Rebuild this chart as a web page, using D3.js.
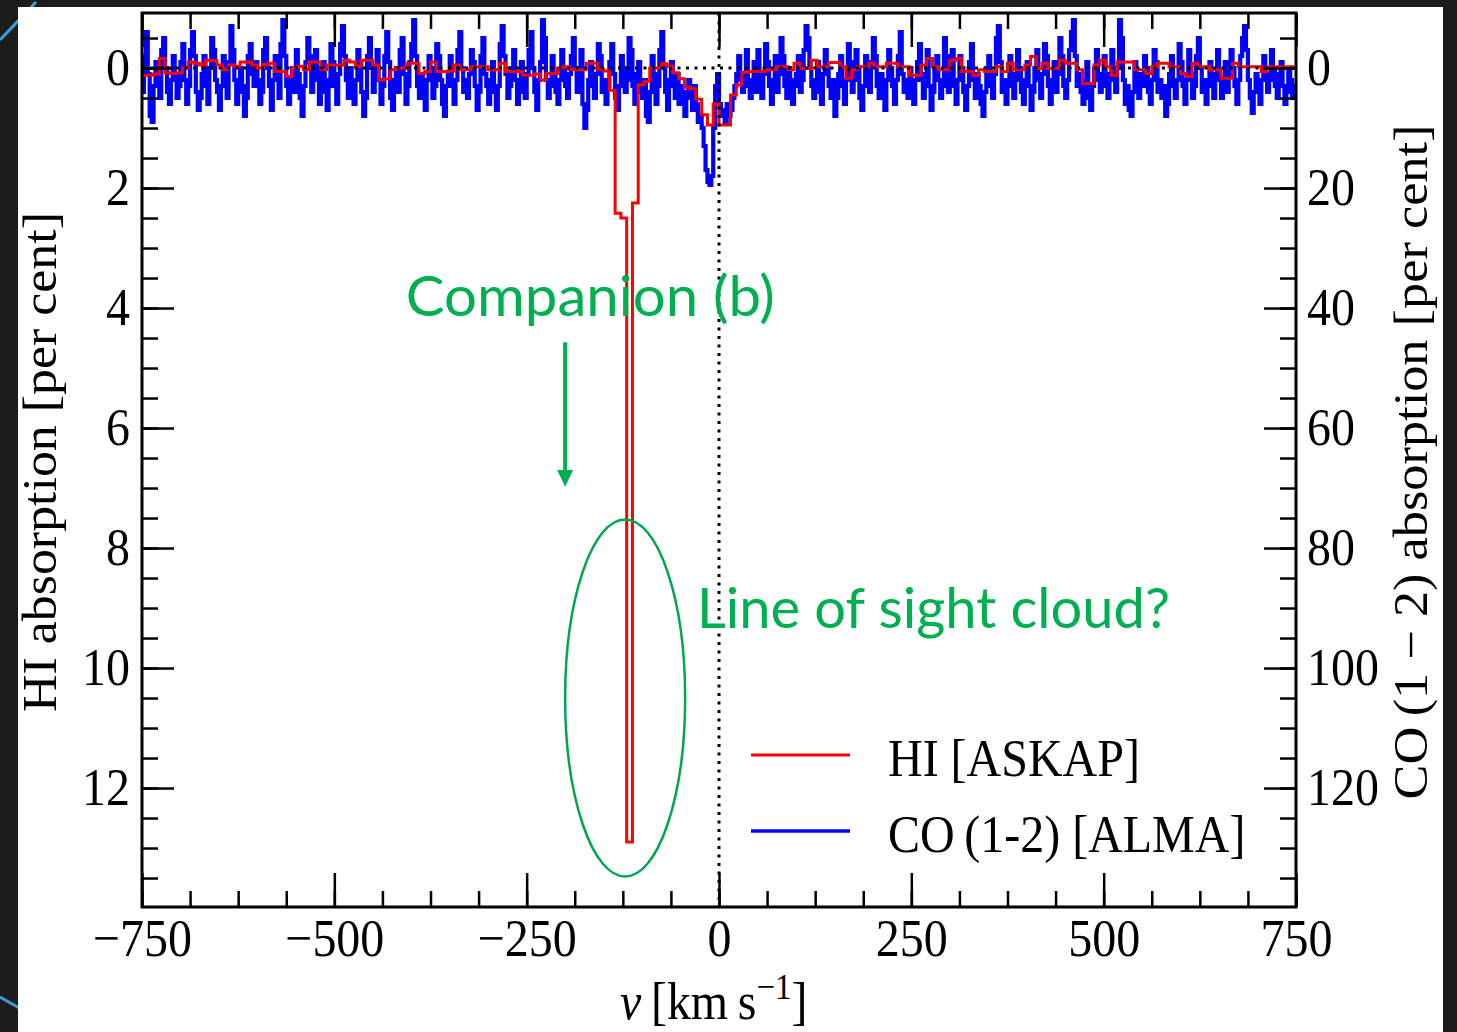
<!DOCTYPE html>
<html>
<head>
<meta charset="utf-8">
<script src="https://cdn.jsdelivr.net/npm/d3@7"></script>
<style>
  body { margin: 0; background: #1c1c1c; }
  svg { display: block; }
</style>
</head>
<body>
<div id="vis"></div>
<script>
// channel grids of the two spectra, km/s
const hiStart = -750, hiWidth = 7.5;
const coStart = -750, coWidth = 2.5;

// HI absorption [per cent], one value per ASKAP channel
const hiValues = [
  0.12, 0.12, 0.10, -0.16, 0.08, 0.09, 0.08, 0.0, -0.1, -0.08,
  -0.05, -0.13, -0.12, -0.05, 0.03, -0.05, -0.03, -0.1, -0.1, -0.05,
  0.0, -0.06, -0.08, 0.06, 0.06, 0.14, 0.0, -0.03, 0.03, -0.1,
  -0.1, 0.03, -0.05, -0.05, -0.05, -0.13, -0.1, -0.03, -0.13, -0.13,
  -0.05, 0.2, 0.18, 0.03, 0.0, 0.0, -0.08, -0.08, 0.09, 0.06,
  -0.1, 0.06, 0.06, 0.05, -0.05, 0.03, 0.03, -0.02, -0.02, -0.02,
  0.03, 0.03, -0.08, 0.06, 0.06, 0.06, 0.12, 0.12, 0.1,
  0.2, 0.09, 0.09, 0.0, -0.02, 0.02, 0.03, 0.03, -0.08, -0.08, 0.02, 0.05, 0.37,
  2.42, 2.5, 12.9, 2.25, 0.28, 0.22, 0.0, 0.0, -0.07, -0.03, 0.08, 0.18,
  0.32, 0.35, 0.52, 0.78, 0.95, 0.6, 0.95, 0.95, 0.45, 0.28, 0.07,
  0.06, 0.06, 0.06, 0.03, 0.03, -0.02, -0.02, 0.03, -0.08, 0.01,
  0.01, -0.13, -0.02, -0.02, -0.09, -0.09, -0.02, 0.17, 0.03, -0.02,
  -0.02, -0.08, -0.02, -0.02, -0.08, -0.08, -0.02, -0.02, 0.12, 0.12,
  -0.05, -0.16, -0.02, 0.03, 0.03, -0.13, -0.16, 0.06, 0.06, 0.12,
  0.03, 0.06, 0.06, -0.02, 0.06, -0.08, 0.03, 0.03, -0.05, -0.19,
  0.01, -0.08, 0.01, 0.01, -0.13, -0.08, -0.08, 0.03, 0.26, 0.26,
  -0.05, -0.13, -0.02, 0.12, -0.1, -0.1, -0.1, 0.03, 0.03, 0.09,
  -0.02, -0.08, -0.08, -0.02, -0.02, 0.09, 0.14, -0.08, -0.02, -0.02,
  0.03, 0.03, 0.17, 0.17, -0.08, -0.02, -0.02, -0.02, -0.02, 0.06,
  -0.02, -0.02, -0.02, -0.02, -0.02
];

// CO(1-2) absorption [per cent], one value per ALMA channel (20 per row = 50 km/s)
const coValues = [
  4, -2, -6, 1, 8, 9, 3, -1, 2, 5, -3, -5, 0, 4, 6, 2, -2, 1, 5, 3,
  -1, -4, 2, 6, 3, -3, -6, -2, 4, 7, 5, 1, -2, 3, 6, 0, -5, -3, 2, 4,
  7, 3, -2, 1, 5, -1, -7, -3, 2, 6, 4, 0, 3, 8, 5, -2, -4, 1, 3, -1,
  2, 6, 4, -3, -5, 0, 3, 7, 2, -2, 1, 5, -4, -8, -2, 3, 6, 2, 0, 4,
  -3, 1, 5, 8, 3, -1, -5, -2, 4, 2, -3, 0, 6, 4, -1, 2, 7, 3, -4, -1,
  3, 6, 1, -4, -7, -2, 2, 5, 0, 3, 6, 2, -3, -1, 4, 8, 5, -2, -5, 0,
  4, 1, -3, 2, 6, 3, -2, -6, -1, 5, 7, 2, 0, 4, -3, -5, 1, 6, 3, -1,
  -4, -8, -2, 3, 5, 1, 4, 7, 2, -2, 0, 5, 3, -4, -2, 2, 6, 8, 3, 1,
  -2, 3, 6, 2, -3, -6, 0, 4, 2, 5, 1, -3, -1, 3, 7, 4, -2, -5, 1, 3,
  6, 2, -1, 4, 7, 3, -4, -7, -2, 1, 5, 3, 0, -3, 2, 6, 4, -1, 3, 5,
  1, -3, -6, 0, 4, 7, 2, -1, -8, -5, 2, 5, 3, -2, 1, 4, 6, 2, -3, 0,
  3, 5, 1, -2, -5, 0, 4, 2, -3, 6, 10, 7, 2, -1, 3, 5, 1, -4, -2, 4,
  2, 6, 3, -1, -4, 1, 5, 7, 3, -2, 0, 4, 2, -5, -3, 3, 6, 1, -1, 4,
  5, 2, 8, 9, 4, -2, 1, 6, 3, -3, -6, 0, 4, 7, 2, -1, 3, 5, 1, 6,
  3, 6, 8, 4, 2, 5, 7, 3, 6, 9, 8, 10, 13, 17, 19, 19.5, 18, 10, 3, 1,
  6, 8, 7, 9, 6, 8, 7, 5, 3, 1, -2, 2, 4, 1, -3, 3, 5, 2, -1, 4,
  -3, 2, 5, 1, -4, -1, 3, 6, 2, -2, 4, 1, -5, -2, 3, 5, 0, 2, 6, 3,
  1, -2, 4, 2, -3, -7, -5, 0, 3, 5, 2, -1, 4, 6, 1, -3, 0, 3, 5, 2,
  8, 5, 1, -2, 3, 6, 2, -4, -1, 4, 2, -3, 0, 5, 7, 3, -2, 1, 4, -1,
  -5, -2, 3, 5, 1, 4, 7, 2, -3, 0, 3, 6, 2, -2, -6, 1, 4, 2, 5, 0,
  3, 6, 2, -1, -4, 2, 5, 1, -3, 3, 7, 4, 0, -2, 2, 5, 3, -5, -2, 4,
  1, -3, 3, 6, 2, -2, 0, 4, 7, 3, -1, -4, 2, 5, 1, 3, 6, 8, 4, 0,
  -2, 3, 5, 1, -5, -7, -1, 4, 2, 6, 3, -2, 1, 5, 2, -3, 0, 4, 6, 2,
  -1, 3, 7, 4, 0, -3, 2, 5, 1, -4, -2, 3, 6, 2, -1, 4, 1, -5, -2, 3,
  5, 2, -3, -6, -8, -2, 3, 1, 4, 6, 2, -1, 5, 7, 3, 0, -3, 2, 4, 1,
  -2, 3, 5, 1, -3, 2, 4, 0, -8, -5, 2, 6, 3, 7, 8, 4, -1, 2, 5, 1,
  3, -2, 0, 4, 6, 2, -3, -1, 4, 2, 5, 3, 8, 6, 1, -2, 3, 5, 2, -4,
  -1, 3, 6, 2, -3, 1, 5, 3, -2, -5, 0, 4, 2, 6, 3, -1, 2, 5, 1, -3,
  2, 5, 3, -1, 4, 1, -3, 0, 3, 6, 2, -2, -5, -7, -3, 2, 5, 7.5, 4, 1,
  3, 6, 2, -2, 1, 4, 2, -3, 0, 3, 5, 1, -1, 3, 6, 4, 0, 2, 5, 3
];

// tick labels
const xTicks = [-750, -500, -250, 0, 250, 500, 750];
const hiTicks = [0, 2, 4, 6, 8, 10, 12];
const coTicks = [0, 20, 40, 60, 80, 100, 120];

const legendLabels = ["HI [ASKAP]", "CO\u2009(1-2) [ALMA]"];

const W = 1457, H = 1032;
const plot = { left: 142, right: 1296, top: 13, bottom: 907 };
const serif = "'Liberation Serif', 'Times New Roman', serif";
const green = "#00b050";
const stretchY = 1.1; // the LaTeX glyphs in the picture are a bit tall

const svg = d3.select('#vis')
  .append('svg')
  .attr('width', W)
  .attr('height', H);

// slide background
svg.append('rect').attr('width', W).attr('height', H).attr('fill', '#1c1c1c');
svg.append('line').attr('x1', 0).attr('y1', 40).attr('x2', 36).attr('y2', 2)
  .attr('stroke', '#3a9fd8').attr('stroke-width', 3);
svg.append('line').attr('x1', 0).attr('y1', 997).attr('x2', 30).attr('y2', 1014)
  .attr('stroke', '#3a9fd8').attr('stroke-width', 3);
svg.append('rect').attr('x', 18).attr('y', 7).attr('width', 1425).attr('height', H)
  .attr('fill', '#ffffff');

// scales
const x = d3.scaleLinear().domain([-750, 750]).range([plot.left, plot.right]);
const yHI = d3.scaleLinear().domain([-0.917, 13.983]).range([plot.top, plot.bottom]);
const yCO = d3.scaleLinear().domain([-9.17, 139.83]).range([plot.top, plot.bottom]);

svg.append('clipPath').attr('id', 'clip')
  .append('rect')
  .attr('x', plot.left).attr('y', plot.top)
  .attr('width', plot.right - plot.left).attr('height', plot.bottom - plot.top);

// histogram-style step points: bin edges plus the closing edge
function stepPoints(start, width, values) {
  const pts = values.map((d, i) => [start + i * width, d]);
  pts.push([start + values.length * width, values[values.length - 1]]);
  return pts;
}

const g = svg.append('g').attr('clip-path', 'url(#clip)');

// CO spectrum (right axis)
g.append('path')
  .datum(stepPoints(coStart, coWidth, coValues))
  .attr('fill', 'none')
  .attr('stroke', '#0000ff')
  .attr('stroke-width', 4.2)
  .attr('d', d3.line().curve(d3.curveStepAfter).x(d => x(d[0])).y(d => yCO(d[1])));

// HI spectrum (left axis)
g.append('path')
  .datum(stepPoints(hiStart, hiWidth, hiValues))
  .attr('fill', 'none')
  .attr('stroke', '#ff0000')
  .attr('stroke-width', 3)
  .attr('d', d3.line().curve(d3.curveStepAfter).x(d => x(d[0])).y(d => yHI(d[1])));

// zero lines
g.append('line')
  .attr('x1', plot.left).attr('x2', plot.right)
  .attr('y1', yHI(0)).attr('y2', yHI(0))
  .attr('stroke', '#000').attr('stroke-width', 3).attr('stroke-dasharray', '3,5.5');
g.append('line')
  .attr('x1', x(0)).attr('x2', x(0))
  .attr('y1', plot.top).attr('y2', plot.bottom)
  .attr('stroke', '#000').attr('stroke-width', 3).attr('stroke-dasharray', '3,5.5');

// axes: ticks point inwards on all four sides
function styleAxis(sel) {
  sel.select('.domain').remove();
  sel.selectAll('line').attr('stroke', '#000').attr('stroke-width', 2.5);
  sel.selectAll('text')
    .attr('fill', '#000')
    .style('font-family', serif)
    .style('font-size', '48px')
    .each(function () {
      const t = d3.select(this);
      const yy = +t.attr('y') || 0;
      t.attr('y', yy / stretchY).attr('transform', `scale(1,${stretchY})`);
    });
}

const minorX = d3.range(-750, 751, 62.5);
const minorY = d3.range(-0.5, 14, 0.5);
const minorCO = d3.range(-5, 140, 5);

svg.append('g').attr('transform', `translate(0,${plot.bottom})`)
  .call(d3.axisBottom(x).tickValues(minorX).tickSize(-16).tickFormat(''))
  .call(styleAxis);
svg.append('g').attr('transform', `translate(0,${plot.bottom})`)
  .call(d3.axisBottom(x).tickValues(xTicks).tickSize(-34).tickPadding(12))
  .call(styleAxis);
svg.append('g').attr('transform', `translate(0,${plot.top})`)
  .call(d3.axisTop(x).tickValues(minorX).tickSize(-16).tickFormat(''))
  .call(styleAxis);
svg.append('g').attr('transform', `translate(0,${plot.top})`)
  .call(d3.axisTop(x).tickValues(xTicks).tickSize(-34).tickFormat(''))
  .call(styleAxis);

svg.append('g').attr('transform', `translate(${plot.left},0)`)
  .call(d3.axisLeft(yHI).tickValues(minorY).tickSize(-16).tickFormat(''))
  .call(styleAxis);
svg.append('g').attr('transform', `translate(${plot.left},0)`)
  .call(d3.axisLeft(yHI).tickValues(hiTicks).tickSize(-32).tickPadding(12))
  .call(styleAxis);
svg.append('g').attr('transform', `translate(${plot.right},0)`)
  .call(d3.axisRight(yCO).tickValues(minorCO).tickSize(-16).tickFormat(''))
  .call(styleAxis);
svg.append('g').attr('transform', `translate(${plot.right},0)`)
  .call(d3.axisRight(yCO).tickValues(coTicks).tickSize(-32).tickPadding(11))
  .call(styleAxis);

// frame
svg.append('rect')
  .attr('x', plot.left).attr('y', plot.top)
  .attr('width', plot.right - plot.left).attr('height', plot.bottom - plot.top)
  .attr('fill', 'none').attr('stroke', '#000').attr('stroke-width', 3);

// axis labels
svg.append('text')
  .attr('transform', `translate(56,462) rotate(-90)`)
  .attr('text-anchor', 'middle')
  .style('font-family', serif).style('font-size', '48px')
  .attr('textLength', 500).attr('lengthAdjust', 'spacingAndGlyphs')
  .text('HI absorption [per cent]');

svg.append('text')
  .attr('transform', `translate(1427,462) rotate(-90)`)
  .attr('text-anchor', 'middle')
  .style('font-family', serif).style('font-size', '48px')
  .attr('textLength', 675).attr('lengthAdjust', 'spacingAndGlyphs')
  .text('CO\u2009(1 \u2212 2) absorption [per cent]');

const xl = svg.append('text')
  .attr('x', 620).attr('y', 1019 / stretchY)
  .attr('transform', `scale(1,${stretchY})`)
  .style('font-family', serif).style('font-size', '48px');
xl.append('tspan').style('font-style', 'italic').text('v');
xl.append('tspan').text('\u2009[km\u2009s');
xl.append('tspan').attr('dy', -18).style('font-size', '33px').text('\u22121');
xl.append('tspan').attr('dy', 18).text(']');

// legend
const legendColors = ['#ff0000', '#0000ff'];
const legendY = [755, 831];
legendLabels.forEach((lab, i) => {
  svg.append('line')
    .attr('x1', 751).attr('x2', 850)
    .attr('y1', legendY[i]).attr('y2', legendY[i])
    .attr('stroke', legendColors[i]).attr('stroke-width', i === 0 ? 3 : 3.5);
  svg.append('text')
    .attr('x', 888).attr('y', (legendY[i] + 21) / stretchY)
    .attr('transform', `scale(1,${stretchY})`)
    .style('font-family', serif).style('font-size', '48px')
    .text(lab);
});

// annotations (positions in data units)
svg.append('ellipse')
  .attr('cx', x(-122)).attr('cy', yHI(10.5))
  .attr('rx', x(-122 + 78) - x(-122)).attr('ry', yHI(10.5 + 2.975) - yHI(10.5))
  .attr('fill', 'none').attr('stroke', '#00a650').attr('stroke-width', 2.5);

svg.append('line')
  .attr('x1', x(-200)).attr('x2', x(-200))
  .attr('y1', yHI(4.57)).attr('y2', yHI(6.75))
  .attr('stroke', green).attr('stroke-width', 4);
svg.append('path')
  .attr('d', `M${x(-200) - 8},${yHI(6.7)} L${x(-200) + 8},${yHI(6.7)} L${x(-200)},${yHI(6.98)} Z`)
  .attr('fill', green);

svg.append('text')
  .attr('x', x(-407)).attr('y', yHI(4.13))
  .style('font-family', 'Lato, sans-serif').style('font-size', '56px')
  .attr('textLength', 369).attr('lengthAdjust', 'spacingAndGlyphs')
  .attr('fill', green)
  .text('Companion (b)');

svg.append('text')
  .attr('x', x(-28.6)).attr('y', yHI(9.33))
  .style('font-family', 'Lato, sans-serif').style('font-size', '56px')
  .attr('textLength', 473).attr('lengthAdjust', 'spacingAndGlyphs')
  .attr('fill', green)
  .text('Line of sight cloud?');
</script>
</body>
</html>
